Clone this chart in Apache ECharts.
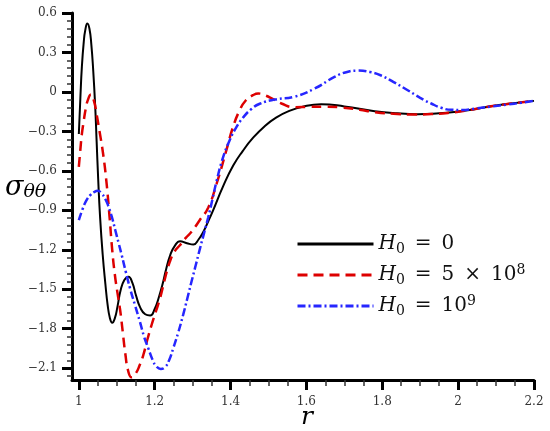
<!DOCTYPE html>
<html>
<head>
<meta charset="utf-8">
<script src="https://cdn.jsdelivr.net/npm/echarts@6/dist/echarts.min.js"></script>
<style>
html,body{margin:0;padding:0;background:#fff;}
#chart{width:550px;height:431px;}
</style>
</head>
<body>
<div id="chart"></div>
<script>
// curve values: [r, sigma]
var h0Zero = [[1.000,-0.32],[1.004,-0.05],[1.008,0.19],[1.013,0.38],[1.017,0.47],[1.0225,0.52],[1.028,0.48],[1.033,0.36],[1.038,0.16],[1.043,-0.10],[1.047,-0.38],[1.051,-0.66],[1.056,-0.95],[1.063,-1.24],[1.070,-1.46],[1.076,-1.62],[1.082,-1.72],[1.088,-1.755],[1.095,-1.72],[1.102,-1.63],[1.110,-1.51],[1.120,-1.43],[1.131,-1.405],[1.141,-1.45],[1.151,-1.55],[1.162,-1.64],[1.175,-1.69],[1.188,-1.70],[1.200,-1.65],[1.210,-1.57],[1.220,-1.47],[1.230,-1.35],[1.241,-1.24],[1.253,-1.17],[1.267,-1.135],[1.285,-1.15],[1.302,-1.16],[1.316,-1.12],[1.328,-1.065],[1.341,-0.985],[1.354,-0.90],[1.380,-0.72],[1.407,-0.56],[1.432,-0.45],[1.459,-0.35],[1.490,-0.26],[1.520,-0.195],[1.552,-0.148],[1.590,-0.112],[1.639,-0.093],[1.700,-0.11],[1.780,-0.147],[1.840,-0.163],[1.894,-0.169],[1.950,-0.162],[1.990,-0.152],[2.040,-0.133],[2.087,-0.109],[2.140,-0.088],[2.200,-0.068]];
var h0Five = [[1.000,-0.57],[1.004,-0.44],[1.008,-0.32],[1.013,-0.22],[1.018,-0.13],[1.024,-0.06],[1.032,-0.02],[1.040,-0.07],[1.047,-0.17],[1.054,-0.29],[1.064,-0.47],[1.073,-0.69],[1.081,-0.95],[1.088,-1.20],[1.095,-1.39],[1.102,-1.53],[1.109,-1.66],[1.116,-1.83],[1.123,-2.00],[1.130,-2.12],[1.139,-2.17],[1.150,-2.14],[1.160,-2.08],[1.170,-2.00],[1.180,-1.89],[1.192,-1.77],[1.203,-1.67],[1.214,-1.57],[1.227,-1.42],[1.240,-1.29],[1.253,-1.21],[1.267,-1.164],[1.282,-1.11],[1.297,-1.063],[1.319,-0.974],[1.341,-0.88],[1.363,-0.70],[1.389,-0.443],[1.405,-0.28],[1.424,-0.139],[1.440,-0.065],[1.459,-0.025],[1.473,-0.012],[1.490,-0.025],[1.512,-0.055],[1.534,-0.088],[1.569,-0.116],[1.604,-0.114],[1.650,-0.112],[1.692,-0.118],[1.740,-0.135],[1.780,-0.154],[1.830,-0.166],[1.885,-0.172],[1.930,-0.168],[1.973,-0.160],[2.030,-0.137],[2.087,-0.109],[2.140,-0.088],[2.200,-0.068]];
var h0Nine = [[1.000,-0.975],[1.010,-0.89],[1.020,-0.825],[1.030,-0.785],[1.040,-0.762],[1.050,-0.752],[1.060,-0.772],[1.070,-0.815],[1.078,-0.87],[1.087,-0.95],[1.096,-1.05],[1.105,-1.15],[1.113,-1.24],[1.124,-1.37],[1.135,-1.493],[1.148,-1.62],[1.161,-1.746],[1.172,-1.86],[1.183,-1.948],[1.195,-2.04],[1.205,-2.088],[1.216,-2.106],[1.228,-2.09],[1.238,-2.04],[1.249,-1.948],[1.262,-1.83],[1.275,-1.695],[1.286,-1.57],[1.297,-1.443],[1.308,-1.32],[1.319,-1.195],[1.330,-1.075],[1.341,-0.955],[1.352,-0.82],[1.363,-0.68],[1.380,-0.50],[1.398,-0.365],[1.415,-0.27],[1.433,-0.195],[1.455,-0.13],[1.477,-0.09],[1.517,-0.058],[1.569,-0.036],[1.622,0.026],[1.674,0.114],[1.705,0.150],[1.736,0.162],[1.767,0.152],[1.797,0.125],[1.830,0.075],[1.867,0.013],[1.900,-0.045],[1.929,-0.088],[1.955,-0.12],[1.982,-0.136],[2.010,-0.137],[2.043,-0.127],[2.090,-0.11],[2.130,-0.096],[2.165,-0.083],[2.200,-0.068]];

var xTicks = [1, 1.2, 1.4, 1.6, 1.8, 2, 2.2];
var yTicks = [-2.1, -1.8, -1.5, -1.2, -0.9, -0.6, -0.3, 0, 0.3, 0.6];
var legendNames = ['H0 = 0', 'H0 = 5x10^8', 'H0 = 10^9'];
var legendText = {
	'H0 = 0': '{h|H}{s|0}{t|\u2002=\u20020}',
	'H0 = 5x10^8': '{h|H}{s|0}{t|\u2002=\u20025\u2002×\u200210}{p|8}',
	'H0 = 10^9': '{h|H}{s|0}{t|\u2002=\u200210}{p|9}'
};

// minor ticks
var xMinor = [];
for (var i = 21; i <= 44; i++) { if (i % 4 != 0) xMinor.push(Math.round(i * 5) / 100); }
var yMinor = [];
for (var j = -36; j <= 9; j++) { if (j % 5 != 0) yMinor.push(Math.round(j * 6) / 100); }

var fmt = function(v){ return String(Math.round(v * 10) / 10).replace('-', '\u2212'); };

var chart = echarts.init(document.getElementById('chart'));
var lab = { fontFamily: 'DejaVu Serif', fontSize: 12, color: '#333' };

var option = {
	animation: false,
	grid: { left: 72, top: 13, right: 16, bottom: 51 },
	xAxis: [{
		type: 'value', min: 0.982, max: 2.2, position: 'bottom',
		axisLine: { onZero: false, lineStyle: { color: '#000', width: 3 } },
		axisTick: { customValues: xTicks, length: 10, lineStyle: { color: '#000', width: 3 } },
		axisLabel: { customValues: xTicks, margin: 16, formatter: fmt, fontFamily: lab.fontFamily, fontSize: lab.fontSize, color: lab.color },
		splitLine: { show: false }
	}, {
		type: 'value', min: 0.982, max: 2.2, position: 'bottom',
		axisLine: { show: false, onZero: false },
		axisTick: { customValues: xMinor, length: 6, lineStyle: { color: '#333', width: 1.5 } },
		axisLabel: { show: false },
		splitLine: { show: false }
	}],
	yAxis: [{
		type: 'value', min: -2.19, max: 0.6, position: 'left',
		axisLine: { show: true, onZero: false, lineStyle: { color: '#000', width: 3 } },
		axisTick: { show: true, customValues: yTicks, length: 10, lineStyle: { color: '#000', width: 3 } },
		axisLabel: { customValues: yTicks, margin: 15, formatter: fmt, fontFamily: lab.fontFamily, fontSize: lab.fontSize, color: lab.color },
		splitLine: { show: false }
	}, {
		type: 'value', min: -2.19, max: 0.6, position: 'left',
		axisLine: { show: false, onZero: false },
		axisTick: { show: true, customValues: yMinor, length: 5, lineStyle: { color: '#333', width: 1.5 } },
		axisLabel: { show: false },
		splitLine: { show: false }
	}],
	legend: {
		orient: 'vertical', left: 291, top: 227,
		itemWidth: 76, itemHeight: 24, itemGap: 7,
		data: legendNames,
		itemStyle: { opacity: 0 },
		lineStyle: { width: 3 },
		formatter: function(name){ return legendText[name]; },
		textStyle: {
			rich: {
				h: { fontFamily: 'DejaVu Serif', fontStyle: 'italic', fontSize: 20, color: '#111', lineHeight: 24 },
				s: { fontFamily: 'DejaVu Serif', fontSize: 14, color: '#111', padding: [10, 0, 0, 0], lineHeight: 24 },
				t: { fontFamily: 'DejaVu Serif', fontSize: 20, color: '#111', lineHeight: 24 },
				p: { fontFamily: 'DejaVu Serif', fontSize: 14, color: '#111', padding: [0, 0, 10, 0], lineHeight: 24 }
			}
		}
	},
	graphic: [{
		type: 'text', left: 5, top: 174,
		style: {
			text: '{a|σ}{b|θθ}',
			rich: {
				a: { fontFamily: 'DejaVu Serif', fontStyle: 'italic', fontSize: 27, fill: '#000' },
				b: { fontFamily: 'DejaVu Serif', fontStyle: 'italic', fontSize: 19, fill: '#000', padding: [10, 0, 0, 0] }
			}
		}
	}, {
		type: 'text', left: 301, top: 405,
		style: { text: 'r', fontFamily: 'DejaVu Serif', fontStyle: 'italic', fontSize: 25, fill: '#000' }
	}],
	series: [{
		name: legendNames[0], type: 'line', data: h0Zero, showSymbol: false, symbol: 'none',
		smooth: 0.5,
		lineStyle: { color: '#000', width: 2 }, itemStyle: { color: '#000' }
	}, {
		name: legendNames[1], type: 'line', data: h0Five, showSymbol: false, symbol: 'none',
		smooth: 0.5,
		lineStyle: { color: '#dd0000', width: 2.5, type: [10, 6] }, itemStyle: { color: '#dd0000' }
	}, {
		name: legendNames[2], type: 'line', data: h0Nine, showSymbol: false, symbol: 'none',
		smooth: 0.5,
		lineStyle: { color: '#2626ff', width: 2.5, type: [8, 3, 2, 3] }, itemStyle: { color: '#2626ff' }
	}]
};
chart.setOption(option);
</script>
</body>
</html>
